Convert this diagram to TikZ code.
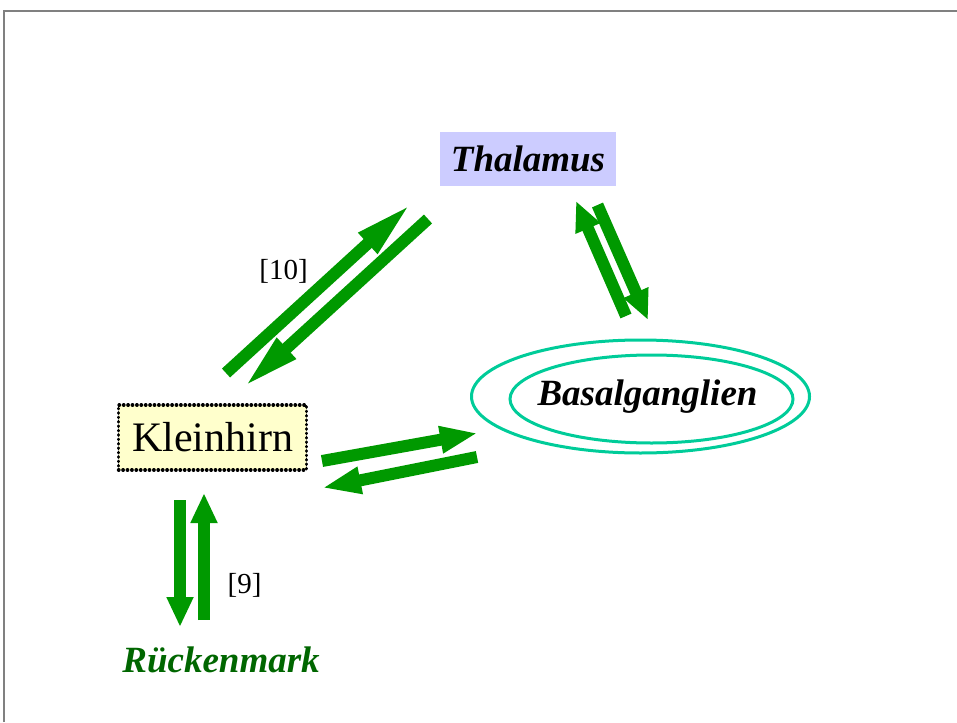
\documentclass[tikz,border=0pt]{standalone}
\usepackage{fontspec}
\setmainfont{Liberation Serif}
\usetikzlibrary{arrows.meta}

\definecolor{flowgreen}{RGB}{0,153,0}
\definecolor{cordgreen}{RGB}{0,102,0}
\definecolor{ringgreen}{RGB}{0,204,153}
\definecolor{thalfill}{RGB}{204,204,255}
\definecolor{kleinfill}{RGB}{255,255,204}

\tikzset{
  flow/.style={draw=flowgreen,line width=12pt,-{Triangle[width=25pt,length=#1]}},
  flow/.default=30pt,
  ring/.style={draw=ringgreen,line width=3pt},
  region/.style={font=\fontsize{37}{37}\selectfont\bfseries\itshape},
  ref/.style={font=\fontsize{29}{29}\selectfont},
  dots/.style={draw=black,line width=3.4pt,line cap=round,dash pattern=on 0.4pt off 4pt}
}

\begin{document}
\begin{tikzpicture}[x=1pt,y=-1pt]
\useasboundingbox (0,0) rectangle (957,722);
\draw[gray,line width=2pt] (4,722) -- (4,11) -- (957,11);

\node[region,fill=thalfill,minimum width=176pt,minimum height=54pt,inner sep=0pt] (th) at (528,159) {Thalamus};
\node[fill=kleinfill,dots,minimum width=188pt,minimum height=65pt,inner sep=0pt,
  font=\fontsize{42}{42}\selectfont] (kh) at (212.5,437.5) {Kleinhirn};
\node[region] (bg) at (647.5,397) {Basalganglien};
\node[region,text=cordgreen] (rm) at (221,659.5) {Rückenmark};

\draw[ring] (651.5,399) ellipse (141.5 and 44);
\draw[ring] (640.5,396.5) ellipse (169 and 56.5);

% arrow ends
\coordinate (kh-up) at (226,373);   \coordinate (th-dl) at (412,203);
\coordinate (th-dn) at (428,219);   \coordinate (kh-ur) at (243,388);
\coordinate (bg-up) at (626,316);   \coordinate (th-dr) at (576,201);
\coordinate (th-lo) at (597.5,205); \coordinate (bg-ul) at (648,320);
\coordinate (kh-rt) at (322,461);   \coordinate (bg-lf) at (478,433);
\coordinate (bg-lo) at (477,457);   \coordinate (kh-lr) at (322,488);
\coordinate (kh-dn) at (180,500);   \coordinate (rm-up) at (180,627);
\coordinate (rm-tp) at (204,620);   \coordinate (kh-bt) at (204,493);

\draw[flow=60pt] (kh-up) -- (th-dl);
\draw[flow=59pt] (th-dn) -- (kh-ur);
\draw[flow] (bg-up) -- (th-dr);
\draw[flow] (th-lo) -- (bg-ul);
\draw[flow=38pt] (kh-rt) -- (bg-lf);
\draw[flow=39pt] (bg-lo) -- (kh-lr);
\draw[flow] (kh-dn) -- (rm-up);
\draw[flow] (rm-tp) -- (kh-bt);

\node[ref] (n10) at (283.5,271.5) {[10]};
\node[ref] (n9) at (244.5,585) {[9]};
\end{tikzpicture}
\end{document}
